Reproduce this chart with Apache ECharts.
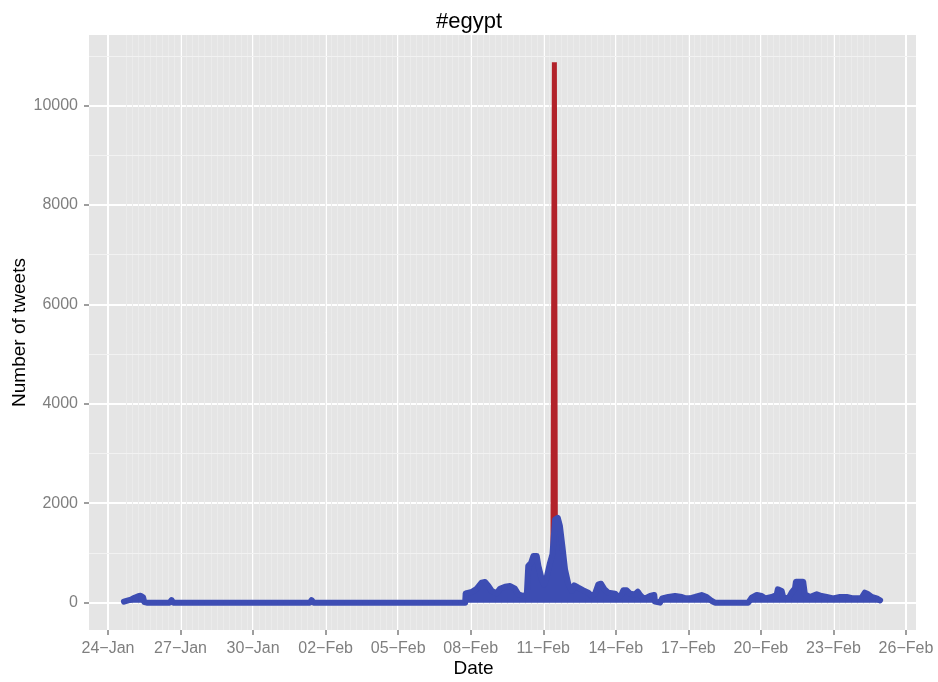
<!DOCTYPE html>
<html>
<head>
<meta charset="utf-8">
<script src="https://cdn.jsdelivr.net/npm/echarts@6/dist/echarts.min.js"></script>
<style>
  html, body { margin: 0; padding: 0; background: #fff; }
  #main { width: 938px; height: 682px; }
</style>
</head>
<body>
<div id="main"></div>
<script>
// x 轴用一年中的第几天 (24 = 24-Jan, 32 = 01-Feb)
var dayTicks = [24, 27, 30, 33, 36, 39, 42, 45, 48, 51, 54, 57];
var yTicks = [0, 2000, 4000, 6000, 8000, 10000];
var yMinor = [1000, 3000, 5000, 7000, 9000, 11000];

// 蓝色线：每个时间点的推文数
var days = [
    24.66, 24.80, 24.95, 25.10, 25.25, 25.35, 25.45, 25.50, 25.60,
    26.55, 26.63, 26.70, 32.35, 32.42, 32.50, 38.77,
    38.79, 39.04, 39.25, 39.45, 39.59, 39.73, 39.87, 40.07, 40.21, 40.42,
    40.63, 40.83, 40.97, 41.18, 41.32, 41.38, 41.50, 41.59, 41.73, 41.80,
    41.94, 42.04, 42.14, 42.28, 42.38, 42.49, 42.60, 42.69, 42.79, 42.90,
    43.04, 43.18, 43.28, 43.45, 43.66, 43.86, 44.00, 44.14, 44.28, 44.39,
    44.53, 44.69, 44.97, 45.10, 45.24, 45.31, 45.45, 45.59, 45.79, 45.91,
    46.00, 46.14, 46.28, 46.42, 46.59, 46.62, 46.65, 46.83, 46.92, 47.17,
    47.45, 47.73, 47.89, 48.07, 48.28, 48.55, 48.76, 48.97, 49.10, 50.48,
    50.62, 50.83, 51.03, 51.17, 51.45, 51.65, 51.70, 51.86, 51.93, 52.14,
    52.27, 52.41, 52.45, 52.75, 52.82, 53.03, 53.31, 53.51, 53.72, 53.99,
    54.27, 54.55, 54.82, 55.03, 55.17, 55.30, 55.40, 55.45, 55.58, 55.79,
    55.93
];
var tweets = [
    20, 40, 60, 100, 130, 140, 110, 10, 0,
    0, 50, 0, 0, 50, 0, 0,
    187, 214, 281, 402, 415, 335, 235, 187, 281, 321,
    335, 281, 167, 134, 167, 737, 803, 937, 937, 737,
    468, 368, 502, 803, 970, 1673, 1707, 1540, 1138, 669,
    368, 235, 347, 301, 248, 201, 134, 181, 368, 381,
    268, 201, 181, 114, 167, 248, 248, 181, 167, 221,
    154, 87, 100, 134, 154, 20, 0, 0, 87, 114,
    134, 114, 87, 87, 114, 154, 114, 33, 0, 0,
    100, 154, 134, 87, 114, 154, 268, 235, 100, 87,
    201, 288, 421, 421, 167, 114, 167, 134, 114, 87,
    114, 114, 87, 87, 100, 201, 180, 167, 114, 87,
    47
];

// 红色尖峰 (11-Feb)
var spikeDays = [42.40, 42.46, 42.50];
var spikeTweets = [970, 10870, 1500];

var months = ['Jan', 'Feb'];
function dayLabel(v) {
    var d = Math.round(v);
    var m = 0;
    if (d > 31) { d = d - 31; m = 1; }
    return (d < 10 ? '0' + d : '' + d) + '\u2212' + months[m];
}

var blueData = days.map(function (d, i) { return [d, tweets[i]]; });
var redData = spikeDays.map(function (d, i) { return [d, spikeTweets[i]]; });

// 细的竖向网格线（每 6 小时一条）
var stripes = [];
for (var s = 24.75; s <= 55.95; s += 0.25) {
    stripes.push({ xAxis: s, lineStyle: { color: '#EBEBEB', width: 1, type: 'solid' } });
}
var minorLines = yMinor.map(function (v) {
    return { yAxis: v, lineStyle: { color: '#F2F2F2', width: 1.2, type: 'solid' } };
});

var myChart = echarts.init(document.getElementById('main'));
var font = 'Liberation Sans, Arial, sans-serif';

option = {
    backgroundColor: '#ffffff',
    animation: false,
    title: {
        text: '#egypt',
        left: 'center',
        top: 6,
        textStyle: { fontSize: 22, fontWeight: 'normal', color: '#000', fontFamily: font }
    },
    grid: {
        left: 89, right: 22, top: 35, bottom: 52,
        outerBoundsMode: 'none',
        containLabel: false,
        show: true,
        backgroundColor: '#E5E5E5',
        borderWidth: 0
    },
    xAxis: {
        type: 'value',
        min: 23.214,
        max: 57.415,
        name: 'Date',
        nameLocation: 'middle',
        nameGap: 29,
        nameMoveOverlap: false,
        nameTextStyle: { fontSize: 19, color: '#000', fontFamily: font, padding: [0, 58, 0, 0] },
        axisLine: { show: false, onZero: false },
        axisTick: { show: true, length: 5, customValues: dayTicks, lineStyle: { color: '#7F7F7F', width: 1.5 } },
        axisLabel: {
            customValues: dayTicks,
            margin: 11,
            fontSize: 16,
            color: '#7F7F7F',
            fontFamily: font,
            formatter: dayLabel
        },
        splitLine: { show: true, lineStyle: { color: '#ffffff', width: 2 } }
    },
    yAxis: {
        type: 'value',
        min: -550,
        max: 11420,
        name: 'Number of tweets',
        nameLocation: 'middle',
        nameGap: 60,
        nameMoveOverlap: false,
        nameTextStyle: { fontSize: 19, color: '#000', fontFamily: font },
        axisLine: { show: false, onZero: false },
        axisTick: { show: true, length: 5, customValues: yTicks, lineStyle: { color: '#7F7F7F', width: 1.5 } },
        axisLabel: {
            customValues: yTicks,
            margin: 11,
            fontSize: 16,
            color: '#7F7F7F',
            fontFamily: font,
            formatter: function (v) { return String(v); }
        },
        splitLine: { show: true, lineStyle: { color: '#ffffff', width: 2 } }
    },
    series: [
        {
            // 次网格线
            type: 'line',
            data: [],
            z: 1,
            silent: true,
            markLine: {
                z: 1,
                silent: true,
                symbol: ['none', 'none'],
                label: { show: false },
                animation: false,
                data: stripes.concat(minorLines)
            }
        },
        {
            type: 'line',
            data: redData,
            z: 3,
            symbol: 'none',
            lineStyle: { color: '#B2222A', width: 5, cap: 'butt', join: 'bevel' }
        },
        {
            type: 'line',
            data: blueData,
            z: 4,
            symbol: 'none',
            lineStyle: { color: '#3D4DB3', width: 6, cap: 'round', join: 'round' },
            areaStyle: { color: '#3D4DB3', opacity: 1 }
        }
    ]
};

myChart.setOption(option, true);
</script>
</body>
</html>
